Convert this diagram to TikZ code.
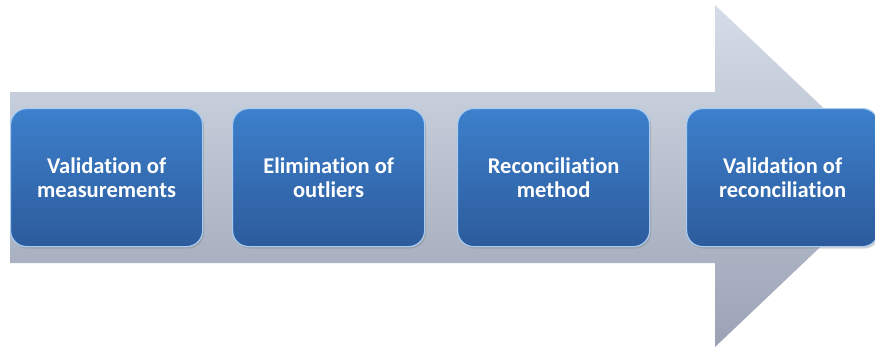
\documentclass[tikz,border=0pt]{standalone}
\usepackage{fontspec}
\setmainfont[Ligatures=NoCommon]{Carlito}
\usetikzlibrary{shadows}
\definecolor{arrowtop}{HTML}{D6DDE9}
\definecolor{arrowbot}{HTML}{9AA2B4}
\definecolor{boxtop}{HTML}{3D80CC}
\definecolor{boxbot}{HTML}{2C5B9C}
\definecolor{boxedge}{HTML}{A8CCF2}
\tikzset{
  stepbox/.style={rounded corners=16pt, minimum width=192pt, minimum height=138pt,
    top color=boxtop, bottom color=boxbot, draw=boxedge, line width=1.2pt,
    text=white, font=\bfseries\fontsize{22.5}{24.5}\selectfont, align=center,
    inner sep=0pt, anchor=north west,
    drop shadow={shadow xshift=1.5pt, shadow yshift=-2pt, opacity=0.35}},
}
\begin{document}
\begin{tikzpicture}[x=1pt,y=-1pt]
\useasboundingbox (0,0) rectangle (875,349);
\clip (0,0) rectangle (875,349);
\fill[white] (0,0) rectangle (875,349);
\shade[top color=arrowtop, bottom color=arrowbot]
  (10,91) -- (715,91) -- (715,5) -- (895,176) -- (715,347) -- (715,263) -- (10,263) -- cycle;
\draw[white, line width=1.5pt] (10,91.5) -- (715,91.5);
\node[stepbox] (b1) at (10,108) {Validation of\\measurements};
\node[stepbox] (b2) at (232,108) {Elimination of\\outliers};
\node[stepbox] (b3) at (457,108) {Reconciliation\\method};
\node[stepbox] (b4) at (686,108) {Validation of\\reconciliation};
\end{tikzpicture}
\end{document}
